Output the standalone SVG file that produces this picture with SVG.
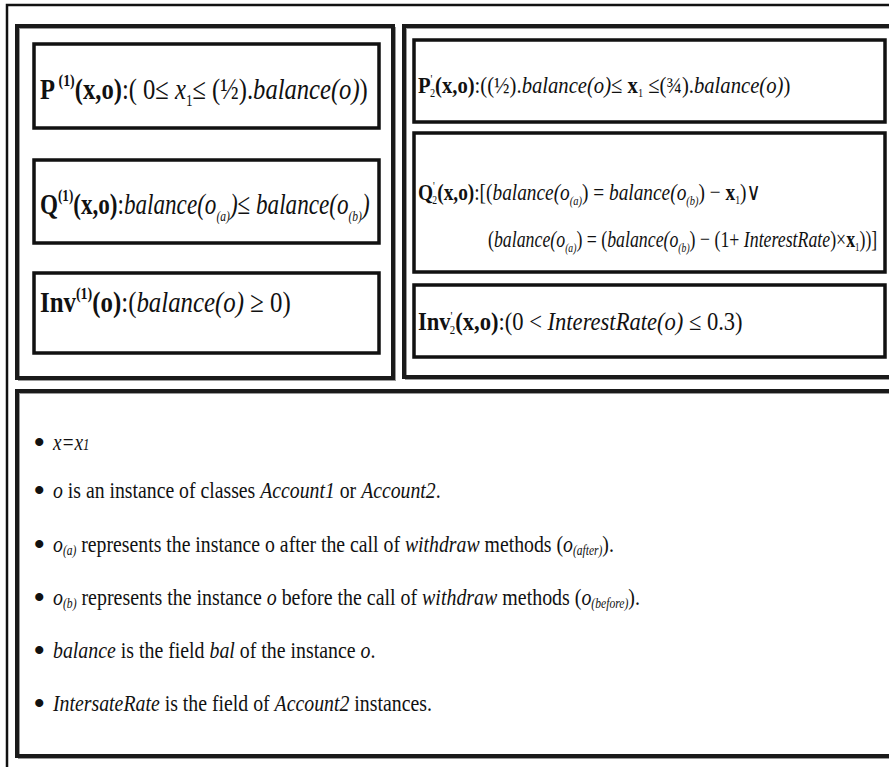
<svg xmlns="http://www.w3.org/2000/svg" width="889" height="767" viewBox="0 0 889 767">
<style>
.t{font-family:"Liberation Serif","DejaVu Serif",serif;fill:#111}
.b{font-weight:bold}
.i{font-style:italic}
.bul{font-family:"Liberation Serif","DejaVu Serif",serif;fill:#111;font-size:30px;font-weight:bold}
.box{fill:none;stroke:#111;stroke-width:3.5}
.panel{fill:none;stroke:#1a1a1a;stroke-width:4}
.shadow{fill:none;stroke:#999;stroke-width:2}
.frame{fill:none;stroke:#111;stroke-width:2.5}
</style>
<rect x="0" y="0" width="889" height="767" fill="#fff"/>
<g id="frame">
<path class="frame" d="M7,767 V5 H889"/>
</g>
<g id="left-panel">
<rect class="shadow" x="19" y="28" width="376" height="352"/>
<rect class="panel" x="17" y="26" width="376" height="352"/>
</g>
<g id="right-panel">
<rect class="shadow" x="406" y="28" width="490" height="351"/>
<rect class="panel" x="404" y="26" width="490" height="351"/>
</g>
<g id="notes-panel">
<rect class="shadow" x="19" y="393" width="880" height="365"/>
<rect class="panel" x="17" y="391" width="880" height="365"/>
</g>
<g id="p1">
<rect class="box" x="34" y="44" width="345" height="84"/>
<text class="t" transform="translate(40,99) scale(0.82,1)" font-size="30"><tspan class="b">P</tspan><tspan class="b" font-size="17" dy="-13"> (1)</tspan><tspan class="b" dy="13">(x,o)</tspan><tspan>:( 0≤ </tspan><tspan class="i">x</tspan><tspan font-size="16" dy="7">1</tspan><tspan dy="-7">≤  (½).</tspan><tspan class="i">balance(o)</tspan><tspan>)</tspan></text>
</g>
<g id="q1">
<rect class="box" x="34" y="160" width="345" height="83"/>
<text class="t" transform="translate(40,214) scale(0.771,1)" font-size="30"><tspan class="b">Q</tspan><tspan class="b" font-size="17" dy="-13">(1)</tspan><tspan class="b" dy="13">(x,o)</tspan><tspan>:</tspan><tspan class="i">balance(o</tspan><tspan class="i" font-size="15" dy="7">(a)</tspan><tspan class="i" dy="-7">)</tspan><tspan>≤  </tspan><tspan class="i">balance(o</tspan><tspan class="i" font-size="15" dy="7">(b)</tspan><tspan class="i" dy="-7">)</tspan></text>
</g>
<g id="inv1">
<rect class="box" x="34" y="273" width="345" height="80"/>
<text class="t" transform="translate(40,312) scale(0.828,1)" font-size="30"><tspan class="b">Inv</tspan><tspan class="b" font-size="17" dy="-13">(1)</tspan><tspan class="b" dy="13">(o)</tspan><tspan>:(</tspan><tspan class="i">balance(o)</tspan><tspan> ≥ 0)</tspan></text>
</g>
<g id="p2">
<rect class="box" x="414" y="40" width="471" height="82"/>
<text class="t" transform="translate(418,93) scale(0.861,1)" font-size="24"><tspan class="b">P</tspan><tspan font-size="12" dy="-10">'</tspan><tspan font-size="12" dx="-3" dy="14">2</tspan><tspan class="b" dy="-4">(x,o)</tspan><tspan>:((½).</tspan><tspan class="i">balance(o)</tspan><tspan>≤ </tspan><tspan class="b">x</tspan><tspan font-size="12" dy="4">1</tspan><tspan dy="-4"> ≤(¾).</tspan><tspan class="i">balance(o)</tspan><tspan>)</tspan></text>
</g>
<g id="q2">
<rect class="box" x="414" y="133" width="471" height="139"/>
<text class="t" transform="translate(418,200) scale(0.806,1)" font-size="24"><tspan class="b">Q</tspan><tspan font-size="12" dy="-10">'</tspan><tspan font-size="12" dx="-3" dy="14">2</tspan><tspan class="b" dy="-4">(x,o)</tspan><tspan>:[(</tspan><tspan class="i">balance(o</tspan><tspan class="i" font-size="13" dy="5">(a)</tspan><tspan dy="-5">) = </tspan><tspan class="i">balance(o</tspan><tspan class="i" font-size="13" dy="5">(b)</tspan><tspan dy="-5">) − </tspan><tspan class="b">x</tspan><tspan font-size="12" dy="4">1</tspan><tspan dy="-4">)∨</tspan></text>
<text class="t" transform="translate(488,247) scale(0.742,1)" font-size="24"><tspan>(</tspan><tspan class="i">balance(o</tspan><tspan class="i" font-size="13" dy="5">(a)</tspan><tspan dy="-5">) = (</tspan><tspan class="i">balance(o</tspan><tspan class="i" font-size="13" dy="5">(b)</tspan><tspan dy="-5">) − (1+ </tspan><tspan class="i">InterestRate</tspan><tspan>)×</tspan><tspan class="b">x</tspan><tspan font-size="12" dy="4">1</tspan><tspan dy="-4">))]</tspan></text>
</g>
<g id="inv2">
<rect class="box" x="414" y="285" width="471" height="72"/>
<text class="t" transform="translate(418,330) scale(0.903,1)" font-size="25"><tspan class="b">Inv</tspan><tspan font-size="12" dy="-10">'</tspan><tspan font-size="12" dx="-3" dy="14">2</tspan><tspan class="b" dy="-4">(x,o)</tspan><tspan>:(0 &lt;  </tspan><tspan class="i">InterestRate(o)</tspan><tspan>  ≤  0.3)</tspan></text>
</g>
<g id="notes">
<text class="bul" x="34" y="452">•</text>
<text class="t" transform="translate(53,450) scale(0.8,1)" font-size="24"><tspan class="i">x=x</tspan><tspan class="i" font-size="16">1</tspan></text>
<text class="bul" x="34" y="500">•</text>
<text class="t" transform="translate(53,498) scale(0.823,1)" font-size="24"><tspan class="i">o</tspan> is an instance of classes <tspan class="i">Account1</tspan> or <tspan class="i">Account2</tspan>.</text>
<text class="bul" x="34" y="554">•</text>
<text class="t" transform="translate(53,552) scale(0.824,1)" font-size="24"><tspan class="i">o</tspan><tspan class="i" font-size="14" dy="3">(a)</tspan><tspan dy="-3"> represents the instance o after the call of </tspan><tspan class="i">withdraw</tspan> methods (<tspan class="i">o</tspan><tspan class="i" font-size="14" dy="3">(after)</tspan><tspan dy="-3">).</tspan></text>
<text class="bul" x="34" y="607">•</text>
<text class="t" transform="translate(53,605) scale(0.83,1)" font-size="24"><tspan class="i">o</tspan><tspan class="i" font-size="14" dy="3">(b)</tspan><tspan dy="-3"> represents the instance  </tspan><tspan class="i">o</tspan> before the call of <tspan class="i">withdraw</tspan> methods (<tspan class="i">o</tspan><tspan class="i" font-size="14" dy="3">(before)</tspan><tspan dy="-3">).</tspan></text>
<text class="bul" x="34" y="660">•</text>
<text class="t" transform="translate(53,658) scale(0.827,1)" font-size="24"><tspan class="i">balance</tspan> is the field <tspan class="i">bal</tspan> of the instance <tspan class="i">o</tspan>.</text>
<text class="bul" x="34" y="713">•</text>
<text class="t" transform="translate(53,711) scale(0.825,1)" font-size="24"><tspan class="i">IntersateRate</tspan> is the field of <tspan class="i">Account2</tspan> instances.</text>
</g>
</svg>
